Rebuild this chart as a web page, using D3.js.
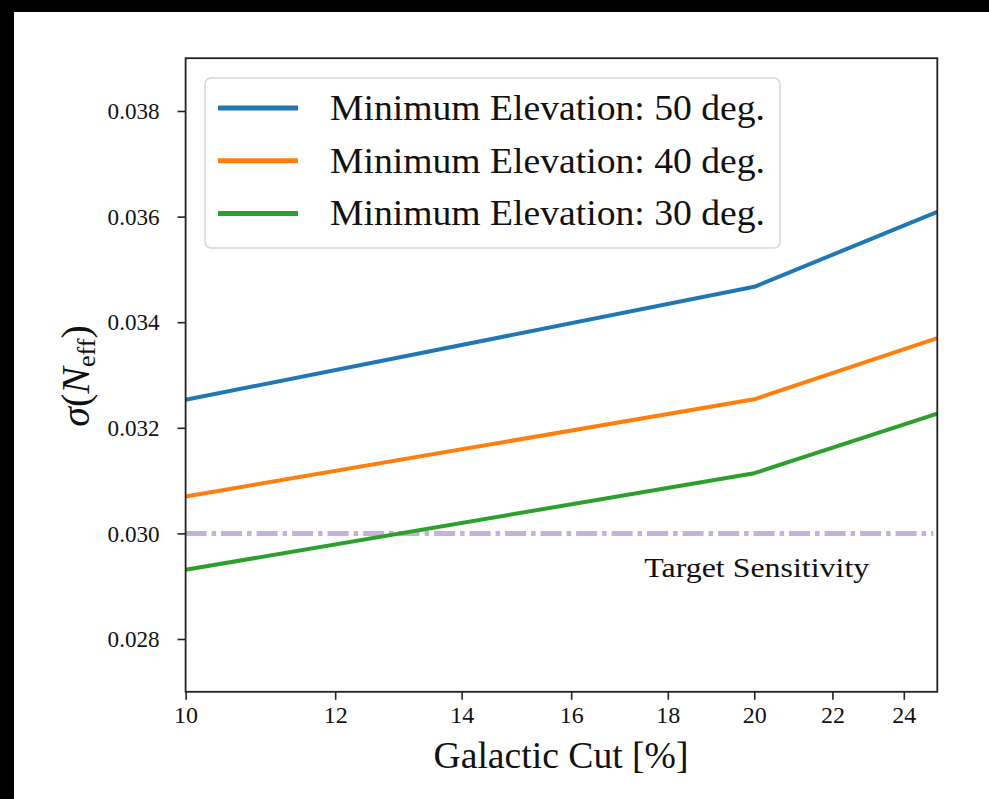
<!DOCTYPE html>
<html><head><meta charset="utf-8">
<script src="https://cdn.jsdelivr.net/npm/d3@7"></script>
<style>
body{margin:0;background:#fff;}
svg text{font-family:"Liberation Serif","Times New Roman",serif;fill:#111;}
</style>
</head><body>
<svg id="chart" width="989" height="799"></svg>
<script>
// ---- data ----
const galacticCut = [10, 20, 25];
const elev50 = [0.03253, 0.03467, 0.03609];
const elev40 = [0.03070, 0.03254, 0.03370];
const elev30 = [0.02931, 0.03114, 0.03227];
const seriesNames = ["Minimum Elevation: 50 deg.", "Minimum Elevation: 40 deg.", "Minimum Elevation: 30 deg."];
const seriesColors = ["#1f77b4", "#ff7f0e", "#2ca02c"];
const xTicks = [10, 12, 14, 16, 18, 20, 22, 24];
const yTicks = [0.028, 0.030, 0.032, 0.034, 0.036, 0.038];
const targetSensitivity = 0.030;
const targetLabel = "Target Sensitivity";
const xLabel = "Galactic Cut [%]";

const series = [elev50, elev40, elev30].map((vals, i) => ({
  name: seriesNames[i], color: seriesColors[i],
  points: galacticCut.map((x, j) => ({x, y: vals[j]}))
}));

// ---- layout ----
const svg = d3.select("#chart");
const plot = {left: 185.6, right: 937.3, top: 58.2, bottom: 691.8};
const x = d3.scaleLog().domain([10, 25]).range([plot.left, plot.right]);
const y = d3.scaleLinear().domain([0.027, 0.039]).range([plot.bottom, plot.top]);

// black frame strips of the screenshot
svg.append("rect").attr("x", 0).attr("y", 0).attr("width", 989).attr("height", 12).attr("fill", "#000");
svg.append("rect").attr("x", 0).attr("y", 0).attr("width", 14).attr("height", 799).attr("fill", "#000");

const defs = svg.append("defs");
defs.append("clipPath").attr("id", "clip").append("rect")
  .attr("x", plot.left).attr("y", plot.top)
  .attr("width", plot.right - plot.left).attr("height", plot.bottom - plot.top);

// target line
svg.append("line")
  .attr("x1", x(10)).attr("x2", x(25) - 4)
  .attr("y1", y(targetSensitivity)).attr("y2", y(targetSensitivity))
  .attr("stroke", "#c6b0dc").attr("stroke-width", 5)
  .attr("stroke-dasharray", "21,5,4.5,5");

// series lines
const line = d3.line().x(d => x(d.x)).y(d => y(d.y));
svg.append("g").attr("clip-path", "url(#clip)")
  .selectAll("path").data(series).join("path")
  .attr("d", d => line(d.points))
  .attr("fill", "none").attr("stroke", d => d.color)
  .attr("stroke-width", 4).attr("stroke-linejoin", "round");

// target label
svg.append("text").attr("x", x(20) - 110).attr("y", 577)
  .attr("font-size", 28).attr("textLength", 225).attr("lengthAdjust", "spacingAndGlyphs")
  .text(targetLabel);

// axes
const axisColor = "#222";
const gx = svg.append("g").attr("transform", `translate(0,${plot.bottom})`)
  .call(d3.axisBottom(x).tickValues(xTicks).tickFormat(d3.format("d")).tickSize(8).tickPadding(6).tickSizeOuter(0));
gx.select(".domain").remove();
gx.selectAll(".tick line").attr("stroke", axisColor).attr("stroke-width", 1.6);
gx.selectAll(".tick text").attr("font-size", 24).attr("font-family", "Liberation Serif").attr("fill", "#111");

const gy = svg.append("g").attr("transform", `translate(${plot.left},0)`)
  .call(d3.axisLeft(y).tickValues(yTicks).tickFormat(d3.format(".3f")).tickSize(8).tickPadding(18).tickSizeOuter(0));
gy.select(".domain").remove();
gy.selectAll(".tick line").attr("stroke", axisColor).attr("stroke-width", 1.6);
gy.selectAll(".tick text").attr("font-size", 24).attr("font-family", "Liberation Serif").attr("fill", "#111")
  .attr("textLength", 52).attr("lengthAdjust", "spacingAndGlyphs");

// frame
svg.append("rect").attr("x", plot.left).attr("y", plot.top)
  .attr("width", plot.right - plot.left).attr("height", plot.bottom - plot.top)
  .attr("fill", "none").attr("stroke", axisColor).attr("stroke-width", 1.8);

// x label
svg.append("text").attr("x", 561).attr("y", 768).attr("text-anchor", "middle")
  .attr("font-size", 37).attr("textLength", 255).attr("lengthAdjust", "spacingAndGlyphs")
  .text(xLabel);

// y label  σ(N_eff)
const yl = svg.append("text").attr("transform", "translate(89,376) rotate(-90)")
  .attr("text-anchor", "middle").attr("font-size", 40);
yl.append("tspan").attr("font-style", "italic").text("σ");
yl.append("tspan").text("(");
yl.append("tspan").attr("font-style", "italic").text("N");
yl.append("tspan").attr("font-size", 26).attr("dy", 6).text("eff");
yl.append("tspan").attr("dy", -6).text(")");

// legend
const lg = svg.append("g");
lg.append("rect").attr("x", 205).attr("y", 78).attr("width", 575).attr("height", 170)
  .attr("rx", 6).attr("fill", "#fff").attr("fill-opacity", 0.85)
  .attr("stroke", "#d6d6d6").attr("stroke-width", 1.5);
const rows = lg.selectAll("g.row").data(series).join("g").attr("class", "row")
  .attr("transform", (d, i) => `translate(0,${108 + i * 52.7})`);
rows.append("line").attr("x1", 218).attr("x2", 298).attr("y1", 0).attr("y2", 0)
  .attr("stroke", d => d.color).attr("stroke-width", 5);
rows.append("text").attr("x", 330).attr("y", 12).attr("font-size", 36)
  .attr("textLength", 435).attr("lengthAdjust", "spacingAndGlyphs")
  .text(d => d.name);
</script>
</body></html>
